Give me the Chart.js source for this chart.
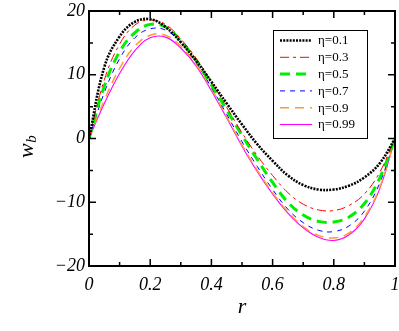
<!DOCTYPE html>
<html>
<head>
<meta charset="utf-8">
<script src="https://cdn.jsdelivr.net/npm/chart.js@4.4.1/dist/chart.umd.min.js"></script>
<style>
  html, body { margin: 0; padding: 0; background: #fff; }
  #wrap { width: 399px; height: 331px; position: relative; }
</style>
</head>
<body>
<div id="wrap"><canvas id="chart" width="399" height="331"></canvas></div>
<script>
// values, r = 0 .. 1 step 0.05
const rValues = [0, 0.05, 0.1, 0.15, 0.2, 0.25, 0.3, 0.35, 0.4, 0.45, 0.5,
                 0.55, 0.6, 0.65, 0.7, 0.75, 0.8, 0.85, 0.9, 0.95, 1];

const etaLabels = ['η=0.1', 'η=0.3', 'η=0.5', 'η=0.7', 'η=0.9', 'η=0.99'];

const wEta01  = [0, 11.2, 16.0, 18.3, 18.7, 17.5, 15.1, 12.2, 8.9, 5.5, 2.2,
                 -0.9, -3.5, -5.8, -7.3, -8.0, -8.0, -7.4, -6.1, -3.9, 0];
const wEta03  = [0, 9.2, 14.8, 17.8, 18.6, 17.9, 15.6, 12.6, 8.9, 4.9, 0.9,
                 -2.7, -5.8, -8.5, -10.3, -11.2, -11.3, -10.5, -8.7, -5.3, 0];
const wEta05  = [0, 8.2, 13.6, 16.6, 17.9, 17.5, 15.3, 12.2, 8.4, 4.5, 0.5,
                 -3.3, -6.9, -10.0, -12.0, -13.0, -13.1, -12.3, -10.2, -6.2, 0];
const wEta07  = [0, 7.2, 12.5, 15.8, 17.2, 17.0, 15.0, 11.9, 8.0, 3.8, -0.5,
                 -4.4, -8.0, -11.1, -13.2, -14.4, -14.6, -13.7, -11.4, -7.0, 0];
const wEta09  = [0, 6.0, 11.0, 14.5, 16.2, 16.2, 14.5, 11.6, 7.8, 3.4, -1.0,
                 -5.0, -8.5, -11.5, -13.8, -15.2, -15.6, -14.8, -12.3, -7.7, 0];
const wEta099 = [0, 5.5, 10.2, 13.8, 15.8, 15.9, 14.2, 11.4, 7.5, 3.2, -1.2,
                 -5.2, -8.7, -11.7, -14.0, -15.5, -16.0, -15.1, -12.6, -7.9, 0];

const xMajor = [0, 0.2, 0.4, 0.6, 0.8, 1];
const xMinor = [0.1, 0.3, 0.5, 0.7, 0.9];
const xTickLabels = ['0', '0.2', '0.4', '0.6', '0.8', '1'];
const yMajor = [-20, -10, 0, 10, 20];
const yMinor = [-15, -5, 5, 15];
const yTickLabels = ['\u221220', '\u221210', '0', '10', '20'];

const seriesValues = [wEta01, wEta03, wEta05, wEta07, wEta09, wEta099];
const styles = [
    { color: '#000000', width: 2.6, dash: [2, 1.2] },
    { color: '#ff0000', width: 1, dash: [9, 4, 3, 4] },
    { color: '#00ee00', width: 3, dash: [10, 6] },
    { color: '#0000ff', width: 1, dash: [5, 5] },
    { color: '#ff9a33', width: 1.5, dash: [9, 6] },
    { color: '#ff00ff', width: 1.1, dash: [] }
];

const serif = "'Liberation Serif', 'DejaVu Serif', serif";

const datasets = seriesValues.map((vals, i) => ({
    label: etaLabels[i],
    data: vals.map((v, k) => ({ x: rValues[k], y: v })),
    borderColor: styles[i].color,
    borderWidth: styles[i].width,
    borderDash: styles[i].dash,
    pointRadius: 0,
    fill: false,
    tension: 0.4
}));

function near(a, b) { return Math.abs(a - b) < 1e-6; }

const frameAndLabels = {
    id: 'frameAndLabels',
    afterDatasetsDraw(chart) {
        const { ctx, chartArea: a, scales: { x, y } } = chart;
        ctx.save();
        ctx.strokeStyle = '#000';
        ctx.lineWidth = 1.5;
        ctx.beginPath();
        const xt = (vals, len) => vals.forEach(v => {
            const px = x.getPixelForValue(v);
            ctx.moveTo(px, a.bottom); ctx.lineTo(px, a.bottom - len);
            ctx.moveTo(px, a.top); ctx.lineTo(px, a.top + len);
        });
        const yt = (vals, len) => vals.forEach(v => {
            const py = y.getPixelForValue(v);
            ctx.moveTo(a.left, py); ctx.lineTo(a.left + len, py);
            ctx.moveTo(a.right, py); ctx.lineTo(a.right - len, py);
        });
        xt(xMajor, 7); xt(xMinor, 4);
        yt(yMajor, 7); yt(yMinor, 4);
        ctx.stroke();

        // frame
        ctx.lineWidth = 2;
        ctx.strokeRect(a.left, a.top, a.right - a.left, a.bottom - a.top);

        // axis titles
        ctx.fillStyle = '#000';
        ctx.textAlign = 'center';
        ctx.textBaseline = 'alphabetic';
        ctx.font = 'italic 22px ' + serif;
        ctx.fillText('r', (a.left + a.right) / 2, 313);

        ctx.save();
        ctx.translate(33, 158);
        ctx.rotate(-Math.PI / 2);
        ctx.textAlign = 'left';
        ctx.font = 'italic 22px ' + serif;
        ctx.fillText('w', 0, 0);
        const ww = ctx.measureText('w').width;
        ctx.font = 'italic 15px ' + serif;
        ctx.fillText('b', ww + 0.5, 3);
        ctx.restore();

        // legend box
        const lx = 273.5, ly = 30.5, lw = 94, lh = 108;
        ctx.fillStyle = '#fff';
        ctx.fillRect(lx, ly, lw, lh);
        ctx.lineWidth = 1;
        ctx.strokeStyle = '#000';
        ctx.strokeRect(lx, ly, lw, lh);
        ctx.font = '13px ' + serif;
        ctx.textAlign = 'left';
        ctx.textBaseline = 'middle';
        datasets.forEach((d, i) => {
            const yy = 40.5 + i * 16.8;
            ctx.save();
            ctx.strokeStyle = d.borderColor;
            ctx.lineWidth = d.borderWidth;
            ctx.setLineDash(d.borderDash);
            ctx.beginPath();
            ctx.moveTo(280, yy);
            ctx.lineTo(312, yy);
            ctx.stroke();
            ctx.restore();
            ctx.fillStyle = '#000';
            ctx.fillText(d.label, 318, yy + 0.5);
        });
        ctx.restore();
    }
};

new Chart(document.getElementById('chart'), {
    type: 'line',
    data: { datasets },
    options: {
        responsive: false,
        animation: false,
        layout: { padding: { top: 11, right: 4, left: 0, bottom: 0 } },
        plugins: { legend: { display: false }, tooltip: { enabled: false } },
        scales: {
            x: {
                type: 'linear',
                min: 0,
                max: 1,
                grid: { display: false, drawTicks: false },
                border: { display: false },
                afterBuildTicks: s => { s.ticks = xMajor.map(v => ({ value: v })); },
                afterFit: s => { s.height = 65; s.paddingLeft = 0; s.paddingRight = 0; },
                ticks: {
                    autoSkip: false,
                    maxRotation: 0,
                    padding: 8,
                    color: '#000',
                    font: { family: serif, size: 18, style: 'italic' },
                    callback: v => {
                        const idx = xMajor.findIndex(m => near(m, v));
                        return idx >= 0 ? xTickLabels[idx] : '';
                    }
                }
            },
            y: {
                min: -20,
                max: 20,
                grid: { display: false, drawTicks: false },
                border: { display: false },
                afterBuildTicks: s => { s.ticks = yMajor.map(v => ({ value: v })); },
                afterFit: s => { s.width = 89; s.paddingTop = 0; s.paddingBottom = 0; },
                ticks: {
                    autoSkip: false,
                    padding: 4,
                    color: '#000',
                    font: { family: serif, size: 18, style: 'italic' },
                    callback: v => {
                        const idx = yMajor.findIndex(m => near(m, v));
                        return idx >= 0 ? yTickLabels[idx] : '';
                    }
                }
            }
        }
    },
    plugins: [frameAndLabels]
});
</script>
</body>
</html>
